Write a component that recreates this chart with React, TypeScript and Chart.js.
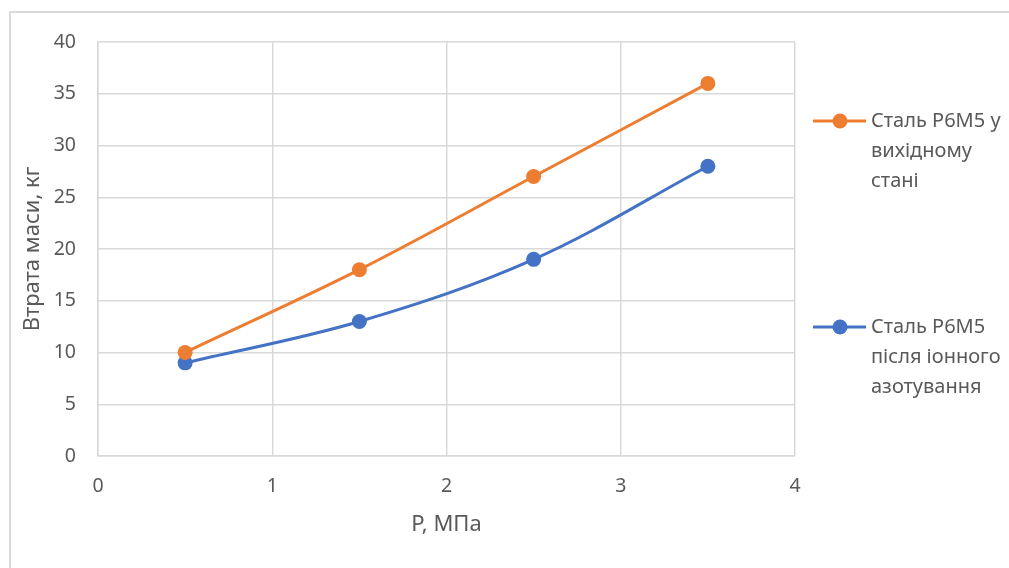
import React, { useEffect, useRef } from "react";
import { Chart, registerables } from "chart.js";

Chart.register(...registerables);

const pressure = [0.5, 1.5, 2.5, 3.5];
const lossOriginal = [10, 18, 27, 36];
const lossNitrided = [9, 13, 19, 28];
const seriesNames = [
  ["Сталь Р6М5 у", "вихідному", "стані"],
  ["Сталь Р6М5", "після іонного", "азотування"],
];
const seriesColors = ["#ED7D31", "#4472C4"];
const xTitle = "P, МПа";
const yTitle = "Втрата маси, кг";

const FONT = "'Noto Sans', sans-serif";
const TEXT = "#595959";
const GRID = "#d9d9d9";

const legendPlugin = {
  id: "sideLegend",
  afterDraw(chart: any) {
    const ctx = chart.ctx;
    const tops = [121, 327];
    ctx.save();
    seriesNames.forEach((lines, i) => {
      const y = tops[i];
      ctx.strokeStyle = seriesColors[i];
      ctx.lineWidth = 3;
      ctx.beginPath();
      ctx.moveTo(813, y);
      ctx.lineTo(866, y);
      ctx.stroke();
      ctx.fillStyle = seriesColors[i];
      ctx.beginPath();
      ctx.arc(840, y, 7.5, 0, Math.PI * 2);
      ctx.fill();
      ctx.fillStyle = TEXT;
      ctx.font = `20px ${FONT}`;
      ctx.textBaseline = "middle";
      ctx.textAlign = "left";
      lines.forEach((t, j) => ctx.fillText(t, 871, y + j * 30));
    });
    ctx.restore();
  },
};

export default function App() {
  const ref = useRef<HTMLCanvasElement>(null);
  useEffect(() => {
    document.body.style.margin = "0";
    document.body.style.overflow = "hidden";
    const chart = new Chart(ref.current!, {
      type: "line",
      data: {
        datasets: [
          {
            label: seriesNames[0].join(" "),
            data: pressure.map((x, i) => ({ x, y: lossOriginal[i] })),
            borderColor: seriesColors[0],
            backgroundColor: seriesColors[0],
            borderWidth: 3,
            pointRadius: 7.5,
            pointBorderWidth: 0,
            tension: 0.35,
          },
          {
            label: seriesNames[1].join(" "),
            data: pressure.map((x, i) => ({ x, y: lossNitrided[i] })),
            borderColor: seriesColors[1],
            backgroundColor: seriesColors[1],
            borderWidth: 3,
            pointRadius: 7.5,
            pointBorderWidth: 0,
            tension: 0.35,
          },
        ],
      },
      options: {
        animation: false,
        responsive: false,
        layout: { padding: { left: 0, top: 42, right: 214, bottom: 0 } },
        plugins: { legend: { display: false }, tooltip: { enabled: false } },
        scales: {
          x: {
            type: "linear",
            min: 0,
            max: 4,
            ticks: { stepSize: 1, padding: 19, color: TEXT, font: { family: FONT, size: 19.5 } },
            grid: { color: GRID, drawTicks: false, lineWidth: 1.5 },
            border: { color: GRID, width: 1.5 },
            title: {
              display: true,
              text: xTitle,
              color: TEXT,
              font: { family: FONT, size: 22 },
              padding: { top: 0, bottom: 30 },
            },
            afterFit: (s: any) => {
              s.height = 112;
            },
          },
          y: {
            min: 0,
            max: 40,
            ticks: { stepSize: 5, padding: 22, color: TEXT, font: { family: FONT, size: 19.5 } },
            grid: { color: GRID, drawTicks: false, lineWidth: 1.5 },
            border: { color: GRID, width: 1.5 },
            title: {
              display: true,
              text: yTitle,
              color: TEXT,
              font: { family: FONT, size: 22 },
              padding: { top: 20, bottom: 0 },
            },
            afterFit: (s: any) => {
              s.width = 98;
            },
          },
        },
      },
      plugins: [legendPlugin],
    });
    return () => chart.destroy();
  }, []);
  return (
    <div style={{ position: "relative", width: 1009, height: 568, background: "#fff", overflow: "hidden" }}>
      <div
        style={{
          position: "absolute",
          left: 9,
          top: 11,
          width: 1100,
          height: 700,
          borderLeft: "2px solid #d9d9d9",
          borderTop: "2px solid #d9d9d9",
        }}
      />
      <canvas ref={ref} width={1009} height={568} style={{ position: "absolute", left: 0, top: 0 }} />
    </div>
  );
}
